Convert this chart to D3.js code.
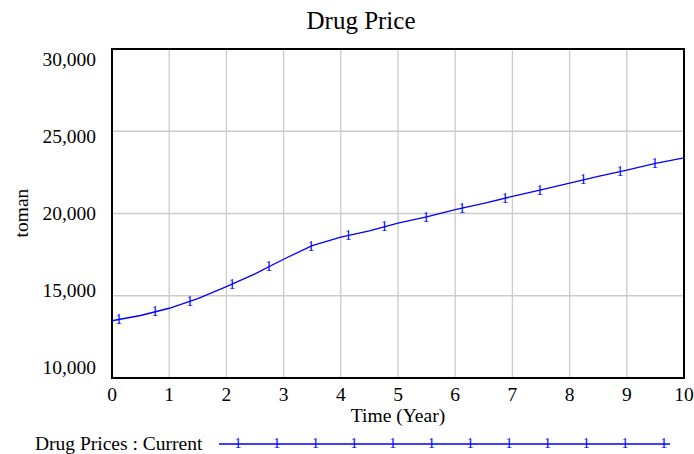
<!DOCTYPE html>
<html>
<head>
<meta charset="utf-8">
<script src="https://cdn.jsdelivr.net/npm/d3@7"></script>
<style>
  body { margin: 0; background: #fff; }
  text { font-family: "Liberation Serif", "Times New Roman", serif; fill: #000; }
</style>
</head>
<body>
<svg id="chart" width="694" height="454"></svg>
<script>
// data
const years = [0, 0.5, 1, 1.5, 2, 2.5, 3, 3.5, 4, 4.5, 5, 5.5, 6, 6.5, 7, 7.5, 8, 8.5, 9, 9.5, 10];
const drugPrices = [13480, 13800, 14240, 14830, 15560, 16330, 17220, 18050, 18560, 18940, 19420,
                    19790, 20230, 20620, 21040, 21440, 21840, 22250, 22640, 23050, 23380];
const markerYears = [0.12, 0.75, 1.36, 2.1, 2.74, 3.48, 4.13, 4.76, 5.49, 6.12, 6.87, 7.48, 8.24, 8.88, 9.49];
const xTicks = [0, 1, 2, 3, 4, 5, 6, 7, 8, 9, 10];
const yTicks = [10000, 15000, 20000, 25000, 30000];

const svg = d3.select("#chart"),
    plotLeft = 112, plotRight = 684, plotTop = 49, plotBottom = 378;

const x = d3.scaleLinear().domain([0, 10]).range([plotLeft, plotRight]);
const y = d3.scaleLinear().domain([10000, 30000]).range([plotBottom, plotTop]);
// tick labels are spread a bit inside the frame
const yLab = d3.scaleLinear().domain([10000, 30000]).range([374, 66]);

const fmt = d3.format(",");

// title
svg.append("text")
    .attr("x", 361).attr("y", 29)
    .attr("text-anchor", "middle")
    .style("font-size", "25px")
    .text("Drug Price");

// grid
svg.append("g").selectAll("line")
    .data(xTicks.slice(1, -1))
    .join("line")
    .attr("x1", d => x(d)).attr("x2", d => x(d))
    .attr("y1", plotTop).attr("y2", plotBottom)
    .attr("stroke", "#cbcbcb").attr("stroke-width", 1.3);

svg.append("g").selectAll("line")
    .data(yTicks.slice(1, -1))
    .join("line")
    .attr("x1", plotLeft).attr("x2", plotRight)
    .attr("y1", d => y(d)).attr("y2", d => y(d))
    .attr("stroke", "#cbcbcb").attr("stroke-width", 1.3);

// frame
svg.append("rect")
    .attr("x", plotLeft).attr("y", plotTop)
    .attr("width", plotRight - plotLeft).attr("height", plotBottom - plotTop)
    .attr("fill", "none").attr("stroke", "#000").attr("stroke-width", 2);

// tick labels
svg.append("g").selectAll("text")
    .data(yTicks)
    .join("text")
    .attr("x", 96).attr("y", d => yLab(d))
    .attr("text-anchor", "end")
    .style("font-size", "19.5px")
    .text(d => fmt(d));

svg.append("g").selectAll("text")
    .data(xTicks)
    .join("text")
    .attr("x", d => x(d)).attr("y", 401)
    .attr("text-anchor", "middle")
    .style("font-size", "19.5px")
    .text(d => d);

// axis titles
svg.append("text")
    .attr("x", 398).attr("y", 422)
    .attr("text-anchor", "middle")
    .style("font-size", "19.5px")
    .text("Time (Year)");

svg.append("text")
    .attr("transform", "translate(28,213) rotate(-90)")
    .attr("text-anchor", "middle")
    .style("font-size", "19.5px")
    .text("toman");

// series line
const series = years.map((t, i) => ({ t, v: drugPrices[i] }));
const line = d3.line().x(d => x(d.t)).y(d => y(d.v));

svg.append("path")
    .datum(series)
    .attr("d", line)
    .attr("fill", "none")
    .attr("stroke", "#0000ff")
    .attr("stroke-width", 1.3);

// "1" markers sitting on the line
const valueAt = d3.scaleLinear().domain(years).range(drugPrices);
svg.append("g").selectAll("text")
    .data(markerYears)
    .join("text")
    .attr("x", d => x(d)).attr("y", d => y(valueAt(d)) + 4.5)
    .attr("text-anchor", "middle")
    .style("font-size", "14px")
    .style("fill", "#0000ff")
    .text("1");

// legend
svg.append("text")
    .attr("x", 35).attr("y", 450)
    .style("font-size", "19.5px")
    .text("Drug Prices : Current");

svg.append("line")
    .attr("x1", 219).attr("x2", 670)
    .attr("y1", 444).attr("y2", 444)
    .attr("stroke", "#0000ff").attr("stroke-width", 1.3);

svg.append("g").selectAll("text")
    .data(d3.range(12))
    .join("text")
    .attr("x", i => 238 + i * 38.7).attr("y", 448)
    .attr("text-anchor", "middle")
    .style("font-size", "14px")
    .style("fill", "#0000ff")
    .text("1");
</script>
</body>
</html>
